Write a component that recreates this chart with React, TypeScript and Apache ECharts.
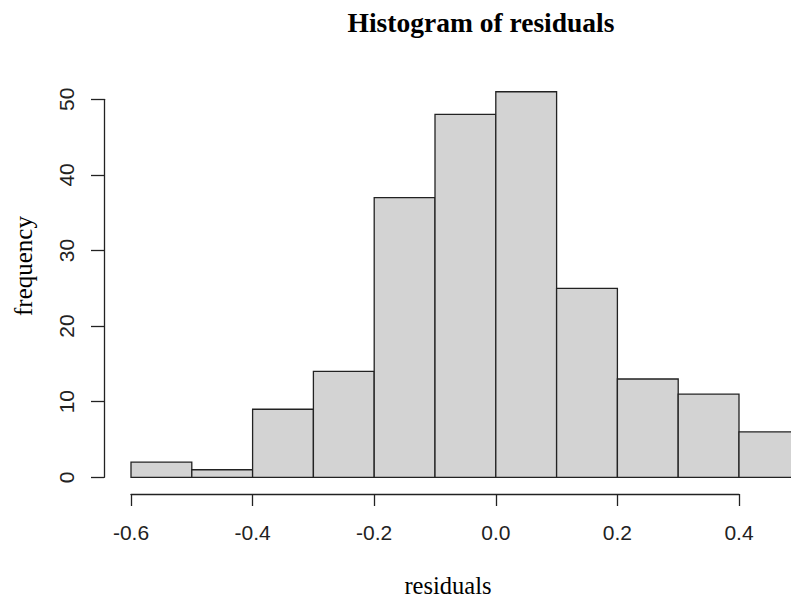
import React, { useEffect, useRef } from "react";
import * as echarts from "echarts";

const binStarts = [-0.6, -0.5, -0.4, -0.3, -0.2, -0.1, 0.0, 0.1, 0.2, 0.3, 0.4];
const binEnds = [-0.5, -0.4, -0.3, -0.2, -0.1, 0.0, 0.1, 0.2, 0.3, 0.4, 0.5];
const counts = [2, 1, 9, 14, 37, 48, 51, 25, 13, 11, 6];
const yTicks = [0, 10, 20, 30, 40, 50];
const xTicks = [-0.6, -0.4, -0.2, 0.0, 0.2, 0.4];

const titleText = "Histogram of residuals";
const xTitle = "residuals";
const yTitle = "frequency";

export default function App() {
  const ref = useRef<HTMLDivElement>(null);
  useEffect(() => {
    if (!ref.current) return;
    const chart = echarts.init(ref.current, null, { renderer: "svg" });
    const data = counts.map((c, i) => [binStarts[i], binEnds[i], c]);
    const sans = "Liberation Sans, Arial, sans-serif";
    const serif = "Liberation Serif, Times New Roman, serif";
    const lineCol = "#222";
    chart.setOption({
      animation: false,
      backgroundColor: "#ffffff",
      grid: [
        { left: 131, top: 99.3, width: 608, height: 378, containLabel: false },
        { left: 131, top: 300, width: 608, height: 194, containLabel: false },
      ],
      xAxis: [
        {
          type: "value",
          gridIndex: 0,
          min: xTicks[0],
          max: xTicks[xTicks.length - 1],
          show: false,
        },
        {
          type: "value",
          gridIndex: 1,
          position: "bottom",
          min: xTicks[0],
          max: xTicks[xTicks.length - 1],
          interval: 0.2,
          splitLine: { show: false },
          axisLine: { show: true, onZero: false, lineStyle: { color: lineCol, width: 1.3 } },
          axisTick: { show: true, length: 12, inside: false, lineStyle: { color: lineCol, width: 1.3 } },
          axisLabel: {
            margin: 28,
            fontSize: 21,
            fontFamily: sans,
            color: lineCol,
            formatter: (v: number) => (Math.abs(v) < 1e-9 ? 0 : v).toFixed(1),
          },
        },
      ],
      yAxis: [
        {
          type: "value",
          gridIndex: 0,
          min: yTicks[0],
          max: yTicks[yTicks.length - 1],
          interval: 10,
          offset: 27,
          splitLine: { show: false },
          axisLine: { show: true, onZero: false, lineStyle: { color: lineCol, width: 1.3 } },
          axisTick: { show: true, length: 13, inside: false, lineStyle: { color: lineCol, width: 1.3 } },
          axisLabel: {
            rotate: 90,
            margin: 27,
            fontSize: 21,
            fontFamily: sans,
            color: lineCol,
          },
        },
        { type: "value", gridIndex: 1, show: false },
      ],
      series: [
        {
          type: "custom",
          xAxisIndex: 0,
          yAxisIndex: 0,
          clip: false,
          data,
          renderItem: (params: any, api: any) => {
            const x0 = api.value(0);
            const x1 = api.value(1);
            const y = api.value(2);
            const p0 = api.coord([x0, y]);
            const p1 = api.coord([x1, 0]);
            return {
              type: "rect",
              shape: { x: p0[0], y: p0[1], width: p1[0] - p0[0], height: p1[1] - p0[1] },
              style: { fill: "#d3d3d3", stroke: lineCol, lineWidth: 1.3 },
            };
          },
        },
      ],
      graphic: [
        {
          type: "text",
          x: 481,
          y: 22,
          style: {
            text: titleText,
            fontFamily: serif,
            fontWeight: "bold",
            fontSize: 27.5,
            fill: "#000",
            textAlign: "center",
            textVerticalAlign: "middle",
          },
        },
        {
          type: "text",
          x: 448,
          y: 585,
          style: {
            text: xTitle,
            fontFamily: serif,
            fontSize: 24.5,
            fill: "#000",
            textAlign: "center",
            textVerticalAlign: "middle",
          },
        },
        {
          type: "text",
          x: 23,
          y: 266,
          rotation: Math.PI / 2,
          style: {
            text: yTitle,
            fontFamily: serif,
            fontSize: 25,
            fill: "#000",
            textAlign: "center",
            textVerticalAlign: "middle",
          },
        },
      ],
    });
    return () => chart.dispose();
  }, []);
  return (
    <div
      ref={ref}
      style={{ position: "fixed", left: 0, top: 0, width: 791, height: 599, overflow: "hidden" }}
    />
  );
}
